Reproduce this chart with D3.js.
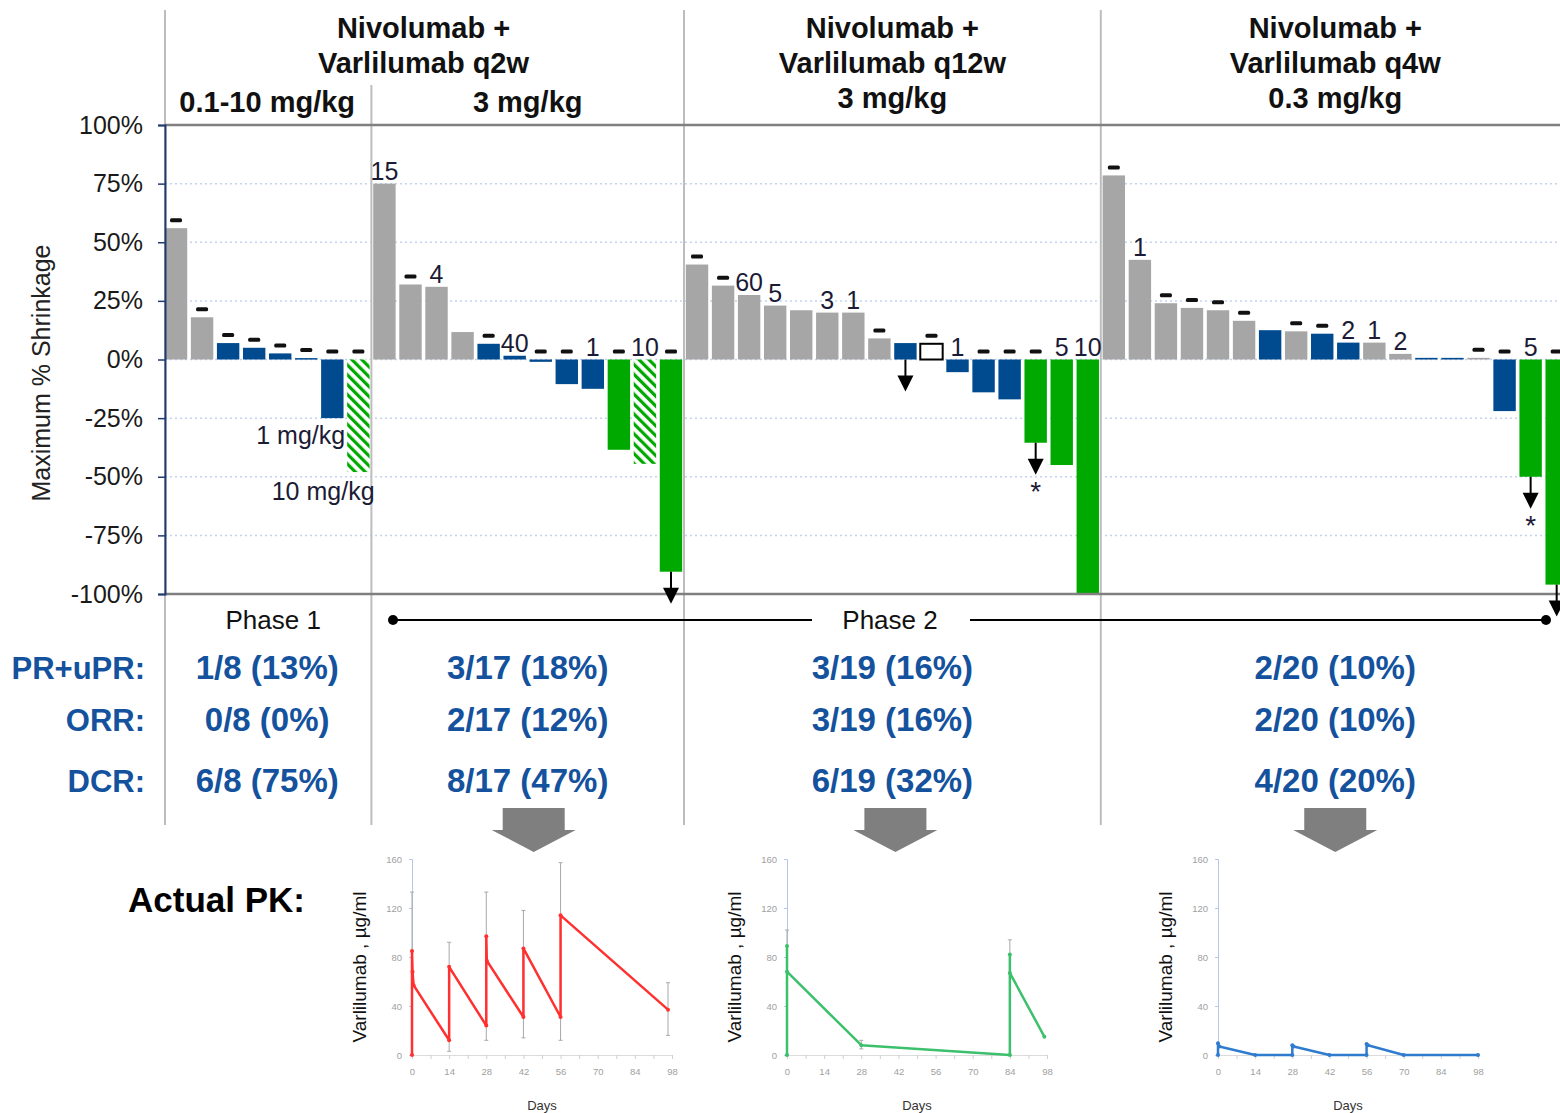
<!DOCTYPE html>
<html>
<head>
<meta charset="utf-8">
<script src="https://cdn.jsdelivr.net/npm/d3@7"></script>
<style>
  body { margin: 0; background: #fff; }
  svg { display: block; font-family: "Liberation Sans", Arial, sans-serif; }
</style>
</head>
<body>
<svg id="chart" width="1560" height="1113"></svg>
<script>
// bars per cohort, in drawing order
const cohortSizes = [8, 12, 16, 18];

// maximum % shrinkage per patient
const q2wLowValues = [56, 18, 7, 5, 2.6, 0.6, -25, -48];
const q2w3Values = [75, 32, 31, 11.7, 6.7, 1.6, -1, -10.5, -12.5, -38.5, -44.5, -90.5];
const q12wValues = [40.5, 31.5, 27.5, 23, 21, 20, 20, 9, 7, 6.7, -5.4, -14, -17, -35.5, -45, -100];
const q4wValues = [78.5, 42.5, 24, 22, 21, 16.5, 12.5, 12, 11, 7.2, 7.2, 2.4, 0.7, 0.7, 0.7, -22, -50, -96];

// g = grey, b = blue, p = green, h = hatched green, w = open box
const q2wLowTypes = ['g', 'g', 'b', 'b', 'b', 'b', 'b', 'h'];
const q2w3Types = ['g', 'g', 'g', 'g', 'b', 'b', 'b', 'b', 'b', 'p', 'h', 'p'];
const q12wTypes = ['g', 'g', 'g', 'g', 'g', 'g', 'g', 'g', 'b', 'w', 'b', 'b', 'b', 'p', 'p', 'p'];
const q4wTypes = ['g', 'g', 'g', 'g', 'g', 'g', 'b', 'g', 'b', 'b', 'g', 'g', 'b', 'b', 'g', 'b', 'p', 'p'];

// '-' = dash marker, number = label above bar
const q2wLowNotes = ['-', '-', '-', '-', '-', '-', '-', '-'];
const q2w3Notes = ['15', '-', '4', '', '-', '40', '-', '-', '1', '-', '10', '-'];
const q12wNotes = ['-', '-', '60', '5', '', '3', '1', '-', '', '-', '1', '-', '-', '-', '5', '10'];
const q4wNotes = ['-', '1', '-', '-', '-', '-', '', '-', '-', '2', '1', '2', '', '', '-', '-', '5', '-'];

const arrowBars = [19, 28, 33, 52, 53];
const starBars = [33, 52];
const yTicks = [100, 75, 50, 25, 0, -25, -50, -75, -100];

const headerTop = [['Nivolumab +', 'Varlilumab q2w'], ['Nivolumab +', 'Varlilumab q12w', '3 mg/kg'], ['Nivolumab +', 'Varlilumab q4w', '0.3 mg/kg']];
const doseLabels = ['0.1-10 mg/kg', '3 mg/kg'];

const statLabels = ['PR+uPR:', 'ORR:', 'DCR:'];
const statPR = ['1/8 (13%)', '3/17 (18%)', '3/19 (16%)', '2/20 (10%)'];
const statORR = ['0/8 (0%)', '2/17 (12%)', '3/19 (16%)', '2/20 (10%)'];
const statDCR = ['6/8 (75%)', '8/17 (47%)', '6/19 (32%)', '4/20 (20%)'];

// PK curves (days, µg/ml)
const pkQ2wDays = [0, 0, 0.2, 0.6, 14, 14, 28, 28, 28.2, 42, 42, 56, 56, 96.5];
const pkQ2wConc = [0, 85, 68, 57, 12, 72, 24, 97, 77, 31, 87, 31, 114, 37];
const pkQ2wErrDays = [0, 14, 28, 42, 56, 96.5];
const pkQ2wErrLow = [0, 3, 12, 14, 12, 16];
const pkQ2wErrHigh = [133, 92, 133, 118, 157, 59];

const pkQ12wDays = [0, 0, 0, 28, 84, 84, 84, 97];
const pkQ12wConc = [0, 89, 68, 8, 0, 82, 67, 15];
const pkQ12wErrDays = [0, 28, 84];
const pkQ12wErrLow = [0, 5, 0];
const pkQ12wErrHigh = [102, 12, 94];

const pkQ4wDays = [0, 0, 0.5, 14, 28, 28, 28.5, 42, 56, 56, 56.5, 70, 98];
const pkQ4wConc = [0, 9.5, 7, 0, 0, 8, 7, 0, 0, 9, 8, 0, 0];
const pkQ4wErrDays = [];
const pkQ4wErrLow = [];
const pkQ4wErrHigh = [];

const shrinkage = [...q2wLowValues, ...q2w3Values, ...q12wValues, ...q4wValues];
const types = [...q2wLowTypes, ...q2w3Types, ...q12wTypes, ...q4wTypes];
const notes = [...q2wLowNotes, ...q2w3Notes, ...q12wNotes, ...q4wNotes];

const colors = { g: '#a6a6a6', b: '#004a8f', p: '#00a900', h: 'url(#hatch)', w: '#fff' };
const statBlue = '#14529e';

const svg = d3.select('#chart');

const defs = svg.append('defs');
const hatch = defs.append('pattern')
  .attr('id', 'hatch')
  .attr('patternUnits', 'userSpaceOnUse')
  .attr('width', 7).attr('height', 7)
  .attr('patternTransform', 'rotate(-45)');
hatch.append('rect').attr('width', 7).attr('height', 7).attr('fill', '#fff');
hatch.append('rect').attr('width', 3.2).attr('height', 7).attr('fill', '#00a900');

const x = d3.scaleBand()
  .domain(d3.range(shrinkage.length))
  .range([163, 163 + shrinkage.length * 26.05])
  .paddingInner(0.14)
  .paddingOuter(0.07);

const y = d3.scaleLinear().domain([-100, 100]).range([594, 125]);

const edge = i => 163 + i * x.step();
const starts = [0];
cohortSizes.forEach((n, i) => starts.push(starts[i] + n));
// header / stat centres
const centres = [
  (edge(starts[0]) + edge(starts[1])) / 2,
  (edge(starts[1]) + edge(starts[2])) / 2,
  (edge(starts[2]) + edge(starts[3])) / 2,
  (edge(starts[3]) + edge(starts[4])) / 2
];

// gridlines
svg.append('g').selectAll('line')
  .data(yTicks.filter(t => Math.abs(t) < 100))
  .join('line')
  .attr('x1', 165).attr('x2', 1560)
  .attr('y1', d => y(d)).attr('y2', d => y(d))
  .attr('stroke', '#c3d3ee')
  .attr('stroke-width', 1.5)
  .attr('stroke-dasharray', '2,3');

// separators
const sepColor = '#bdbdbd';
svg.append('line').attr('x1', 165).attr('x2', 165).attr('y1', 10).attr('y2', 825)
  .attr('stroke', sepColor).attr('stroke-width', 2);
svg.append('line').attr('x1', edge(starts[1])).attr('x2', edge(starts[1])).attr('y1', 85).attr('y2', 825)
  .attr('stroke', sepColor).attr('stroke-width', 2);
[starts[2], starts[3]].forEach(s => {
  svg.append('line').attr('x1', edge(s)).attr('x2', edge(s)).attr('y1', 10).attr('y2', 825)
    .attr('stroke', sepColor).attr('stroke-width', 2);
});

// bars
svg.append('g').selectAll('rect')
  .data(shrinkage)
  .join('rect')
  .attr('x', (d, i) => x(i))
  .attr('y', d => y(Math.max(0, d)))
  .attr('width', x.bandwidth())
  .attr('height', d => Math.max(1.5, Math.abs(y(d) - y(0))))
  .attr('fill', (d, i) => colors[types[i]])
  .attr('stroke', (d, i) => types[i] === 'w' ? '#000' : 'none')
  .attr('stroke-width', 2);

// top / bottom frame
[100, -100].forEach(t => {
  svg.append('line').attr('x1', 165).attr('x2', 1560)
    .attr('y1', y(t)).attr('y2', y(t))
    .attr('stroke', '#808080').attr('stroke-width', 2.5);
});

// y axis
const yAxis = svg.append('g')
  .attr('transform', 'translate(165,0)')
  .call(d3.axisLeft(y).tickValues(yTicks).tickFormat(d => d + '%').tickSize(7).tickPadding(15));
yAxis.select('.domain').attr('stroke', '#1f3a70').attr('stroke-width', 2);
yAxis.selectAll('.tick line').attr('stroke', '#1f3a70').attr('stroke-width', 1.5);
yAxis.selectAll('.tick text')
  .attr('font-size', 25)
  .attr('font-family', '"Liberation Sans", Arial, sans-serif')
  .attr('fill', '#1a1a1a');

svg.append('text')
  .attr('transform', 'translate(50,373) rotate(-90)')
  .attr('text-anchor', 'middle')
  .attr('font-size', 25)
  .attr('fill', '#222')
  .text('Maximum % Shrinkage');

// dash markers and numbers
const topOf = i => y(Math.max(0, shrinkage[i]));
svg.append('g').selectAll('rect')
  .data(d3.range(shrinkage.length).filter(i => notes[i] === '-'))
  .join('rect')
  .attr('x', i => x(i) + x.bandwidth() / 2 - 6)
  .attr('y', i => topOf(i) - 10)
  .attr('width', 12).attr('height', 4).attr('rx', 1.5)
  .attr('fill', '#111');

svg.append('g').selectAll('text')
  .data(d3.range(shrinkage.length).filter(i => notes[i] !== '-' && notes[i] !== ''))
  .join('text')
  .attr('x', i => x(i) + x.bandwidth() / 2)
  .attr('y', i => topOf(i) - 4)
  .attr('text-anchor', 'middle')
  .attr('font-size', 25)
  .attr('fill', '#1b1b36')
  .text(i => notes[i]);

// arrows below bars
const lowOf = i => y(Math.min(0, shrinkage[i]));
const arrowG = svg.append('g');
arrowBars.forEach(i => {
  const cx = x(i) + x.bandwidth() / 2;
  const y0 = lowOf(i);
  arrowG.append('line').attr('x1', cx).attr('x2', cx).attr('y1', y0).attr('y2', y0 + 18)
    .attr('stroke', '#000').attr('stroke-width', 2);
  arrowG.append('path')
    .attr('d', `M${cx - 8},${y0 + 16}L${cx + 8},${y0 + 16}L${cx},${y0 + 32}Z`)
    .attr('fill', '#000');
});
starBars.forEach(i => {
  arrowG.append('text')
    .attr('x', x(i) + x.bandwidth() / 2)
    .attr('y', lowOf(i) + 58)
    .attr('text-anchor', 'middle')
    .attr('font-size', 28)
    .attr('fill', '#1b1b36')
    .text('*');
});

// dose notes beside hatched phase 1 bar
const hb = starts[1] - 1;
svg.append('text').attr('x', x(hb) - 2).attr('y', 444)
  .attr('text-anchor', 'end').attr('font-size', 25).attr('fill', '#1b1b36').text('1 mg/kg');
svg.append('text').attr('x', x(hb) + x.bandwidth() + 5).attr('y', 500)
  .attr('text-anchor', 'end').attr('font-size', 25).attr('fill', '#1b1b36').text('10 mg/kg');

// headers
const headG = svg.append('g').attr('font-weight', 'bold').attr('font-size', 29).attr('fill', '#111')
  .attr('text-anchor', 'middle');
const headCx = [(edge(starts[0]) + edge(starts[2])) / 2, centres[2], centres[3]];
headerTop.forEach((lines, k) => {
  lines.forEach((t, j) => {
    headG.append('text').attr('x', headCx[k]).attr('y', 38 + j * 35).text(t);
  });
});
doseLabels.forEach((t, k) => {
  headG.append('text').attr('x', centres[k]).attr('y', 112).text(t);
});

// phase row
svg.append('text').attr('x', centres[0] + 6).attr('y', 629)
  .attr('text-anchor', 'middle').attr('font-size', 26).attr('fill', '#111').text('Phase 1');
svg.append('text').attr('x', 890).attr('y', 629)
  .attr('text-anchor', 'middle').attr('font-size', 26).attr('fill', '#111').text('Phase 2');
const phaseY = 620;
svg.append('line').attr('x1', 393).attr('x2', 812).attr('y1', phaseY).attr('y2', phaseY)
  .attr('stroke', '#000').attr('stroke-width', 2);
svg.append('line').attr('x1', 970).attr('x2', 1546).attr('y1', phaseY).attr('y2', phaseY)
  .attr('stroke', '#000').attr('stroke-width', 2);
[393, 1546].forEach(px => svg.append('circle').attr('cx', px).attr('cy', phaseY).attr('r', 5).attr('fill', '#000'));

// response stats
const statRows = [statPR, statORR, statDCR];
const statY = [679, 731, 792];
const statG = svg.append('g').attr('font-weight', 'bold').attr('font-size', 33).attr('fill', statBlue);
statLabels.forEach((lab, r) => {
  statG.append('text').attr('x', 145).attr('y', statY[r]).attr('text-anchor', 'end')
    .attr('font-size', 31).text(lab);
  statRows[r].forEach((v, k) => {
    statG.append('text').attr('x', centres[k]).attr('y', statY[r]).attr('text-anchor', 'middle').text(v);
  });
});

// big grey arrows
[centres[1] + 6, centres[2] + 3, centres[3]].forEach(cx => {
  svg.append('path')
    .attr('d', `M${cx - 31},808L${cx + 31},808L${cx + 31},830L${cx + 42},830L${cx},852L${cx - 42},830L${cx - 31},830Z`)
    .attr('fill', '#7f7f7f');
});

svg.append('text').attr('x', 128).attr('y', 912)
  .attr('font-weight', 'bold').attr('font-size', 35).attr('fill', '#000').text('Actual PK:');

// PK panels
function drawPK(x0, days, conc, color, errDays, errLow, errHigh) {
  const px = d3.scaleLinear().domain([0, 98]).range([x0, x0 + 260]);
  const py = d3.scaleLinear().domain([0, 160]).range([1055, 859]);
  const g = svg.append('g');

  const xa = g.append('g').attr('transform', 'translate(0,1055)')
    .call(d3.axisBottom(px).tickValues(d3.range(0, 99, 7)).tickFormat(d => d % 14 === 0 ? d : '').tickSize(4).tickPadding(9));
  xa.select('.domain').attr('stroke', '#dcdcdc');
  xa.selectAll('.tick line').attr('stroke', '#d0d0d0');
  xa.selectAll('.tick text').attr('font-size', 9.5).attr('fill', '#a0a0a0');

  const ya = g.append('g').attr('transform', `translate(${x0},0)`)
    .call(d3.axisLeft(py).tickValues([0, 40, 80, 120, 160]).tickSize(3).tickPadding(7));
  ya.select('.domain').attr('stroke', '#b4c7e7');
  ya.selectAll('.tick line').attr('stroke', '#b4c7e7');
  ya.selectAll('.tick text').attr('font-size', 9.5).attr('fill', '#a0a0a0');

  errDays.forEach((d, k) => {
    const cx = px(d);
    g.append('line').attr('x1', cx).attr('x2', cx).attr('y1', py(errLow[k])).attr('y2', py(errHigh[k]))
      .attr('stroke', '#a8a8a8').attr('stroke-width', 1);
    [errLow[k], errHigh[k]].forEach(v => {
      g.append('line').attr('x1', cx - 2).attr('x2', cx + 2).attr('y1', py(v)).attr('y2', py(v))
        .attr('stroke', '#a8a8a8').attr('stroke-width', 1);
    });
  });

  const pts = days.map((d, k) => [d, conc[k]]);
  g.append('path')
    .datum(pts)
    .attr('d', d3.line().x(d => px(d[0])).y(d => py(d[1])))
    .attr('fill', 'none')
    .attr('stroke', color)
    .attr('stroke-width', 2.5)
    .attr('stroke-linejoin', 'round');
  g.selectAll('circle').data(pts).join('circle')
    .attr('cx', d => px(d[0])).attr('cy', d => py(d[1])).attr('r', 2)
    .attr('fill', color);

  g.append('text')
    .attr('transform', `translate(${x0 - 46},967) rotate(-90)`)
    .attr('text-anchor', 'middle')
    .attr('font-size', 19)
    .attr('fill', '#111')
    .text('Varlilumab , µg/ml');
  g.append('text')
    .attr('x', x0 + 130).attr('y', 1110)
    .attr('text-anchor', 'middle')
    .attr('font-size', 13)
    .attr('fill', '#333')
    .text('Days');
}

drawPK(412, pkQ2wDays, pkQ2wConc, '#ff3030', pkQ2wErrDays, pkQ2wErrLow, pkQ2wErrHigh);
drawPK(787, pkQ12wDays, pkQ12wConc, '#3cc06c', pkQ12wErrDays, pkQ12wErrLow, pkQ12wErrHigh);
drawPK(1218, pkQ4wDays, pkQ4wConc, '#2f7ccf', pkQ4wErrDays, pkQ4wErrLow, pkQ4wErrHigh);
</script>
</body>
</html>
